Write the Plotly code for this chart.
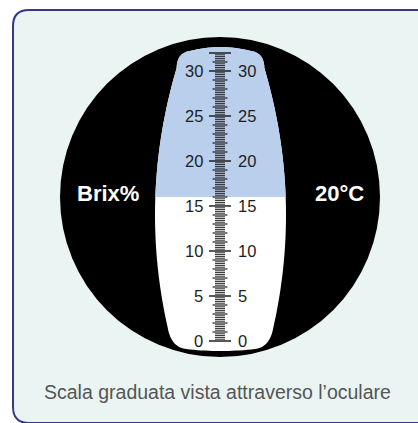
import numpy as np
import plotly.graph_objects as go

# ---- data ----
scale_min = 0
scale_max = 32
fine_step = 0.2
label_values = [0, 5, 10, 15, 20, 25, 30]
blue_threshold = 16          # Brix value where the blue (upper) field ends
left_label = "Brix%"
right_label = "20°C"
caption = "Scala graduata vista attraverso l’oculare"

# ---- styling / geometry (pixel space) ----
W, H = 418, 423
CX = 220.5           # centre line of the scale strip
ZERO_PX = 341        # pixel row of Brix 0
PX_PER_UNIT = 9.0

BORDER = "#3b3489"
PANEL = "#eaf4f3"
BLUE = "#b9cfec"

fig = go.Figure()

def left_x(y):
    return 155 + 0.001 * (y - 215) ** 2

def quad(p0, p1, p2, n=12):
    t = np.linspace(0, 1, n)
    x = (1 - t) ** 2 * p0[0] + 2 * (1 - t) * t * p1[0] + t ** 2 * p2[0]
    y = (1 - t) ** 2 * p0[1] + 2 * (1 - t) * t * p1[1] + t ** 2 * p2[1]
    return list(zip(x, y))

def half_outline():
    pts = []
    for x in np.linspace(CX, 191, 10):
        pts.append((x, 47 + 0.0043 * (x - CX) ** 2))
    y0 = 68
    pts += quad((191, 51), (177, 52), (left_x(y0), y0))[1:]
    for y in np.linspace(y0, 328, 40)[1:]:
        pts.append((left_x(y), y))
    pts += quad((left_x(328), 328), (171, 347), (186, 349))[1:]
    for x in np.linspace(186, CX, 10)[1:]:
        pts.append((x, 351 - 0.0016 * (x - CX) ** 2))
    return pts

left = half_outline()
right = [(2 * CX - x, y) for (x, y) in left][::-1]
outline = left + right

def to_path(pts):
    return "M " + " L ".join(f"{x:.2f},{y:.2f}" for x, y in pts) + " Z"

shapes = []
shapes.append(dict(type="path", xref="x", yref="y", layer="below",
                   path="M 13,26 Q 13,10 29,10 L 424,10 L 424,423 L 29,423 Q 13,423 13,407 Z",
                   fillcolor=PANEL, line=dict(color=BORDER, width=2)))
shapes.append(dict(type="circle", xref="x", yref="y", x0=60, x1=380, y0=37, y1=357,
                   layer="below", fillcolor="black", line=dict(width=0)))
shapes.append(dict(type="path", xref="x", yref="y", path=to_path(outline), layer="below",
                   fillcolor="white", line=dict(width=0)))
yb = ZERO_PX - blue_threshold * PX_PER_UNIT
blue_left = [p for p in left if p[1] <= yb] + [(left_x(yb), yb)]
blue_pts = blue_left + [(2 * CX - x, y) for (x, y) in blue_left][::-1]
shapes.append(dict(type="path", xref="x", yref="y", path=to_path(blue_pts), layer="below",
                   fillcolor=BLUE, line=dict(width=0)))

# ticks on the Brix axis (y2)
vals = np.round(np.arange(scale_min, scale_max + 1e-9, fine_step), 1)
groups = {"fine": ([], [], 5, "#2a2a2a", 1),
          "int": ([], [], 7.5, "#111111", 1.1),
          "major": ([], [], 11, "#111111", 1.4)}
for v in vals:
    if abs(v % 5) < 1e-6 or abs(v - scale_max) < 1e-6:
        k = "major"
    elif abs(v - round(v)) < 1e-6:
        k = "int"
    else:
        k = "fine"
    xs, ys, hw, _, _ = groups[k]
    xs += [CX - 0.5 - hw, CX - 0.5 + hw, None]
    ys += [v, v, None]
for k, (xs, ys, hw, col, lw) in groups.items():
    fig.add_trace(go.Scatter(x=xs, y=ys, mode="lines", yaxis="y2",
                             line=dict(color=col, width=lw), hoverinfo="skip",
                             showlegend=False))

lab_font = dict(family="Liberation Sans, Arial", size=16.5, color="#1e1e1e")
annotations = []
for v in label_values:
    annotations.append(dict(x=205, y=v, xref="x", yref="y2", text=str(v),
                            xanchor="right", yanchor="middle", showarrow=False, font=lab_font))
    annotations.append(dict(x=235.5, y=v, xref="x", yref="y2", text=str(v),
                            xanchor="left", yanchor="middle", showarrow=False, font=lab_font))

annotations.append(dict(x=108, y=193, xref="x", yref="y", text=f"<b>{left_label}</b>",
                        showarrow=False, font=dict(family="Liberation Sans, Arial", size=22, color="white")))
annotations.append(dict(x=339, y=193, xref="x", yref="y", text=f"<b>{right_label}</b>",
                        showarrow=False, font=dict(family="Liberation Sans, Arial", size=22, color="white")))
annotations.append(dict(x=217, y=392, xref="x", yref="y", text=caption,
                        showarrow=False, font=dict(family="Liberation Sans, Arial", size=19.5, color="#555555")))

fig.update_layout(
    width=W, height=H, margin=dict(l=0, r=0, t=0, b=0),
    paper_bgcolor="white", plot_bgcolor="white",
    xaxis=dict(range=[0, W], visible=False, fixedrange=True),
    yaxis=dict(range=[H, 0], visible=False, fixedrange=True),
    yaxis2=dict(range=[(ZERO_PX - H) / PX_PER_UNIT, ZERO_PX / PX_PER_UNIT],
                overlaying="y", visible=False, fixedrange=True),
    shapes=shapes, annotations=annotations, showlegend=False,
)

fig.write_html("out.html", config={"displayModeBar": False, "staticPlot": True},
               post_script="document.body.style.margin='0px';")
